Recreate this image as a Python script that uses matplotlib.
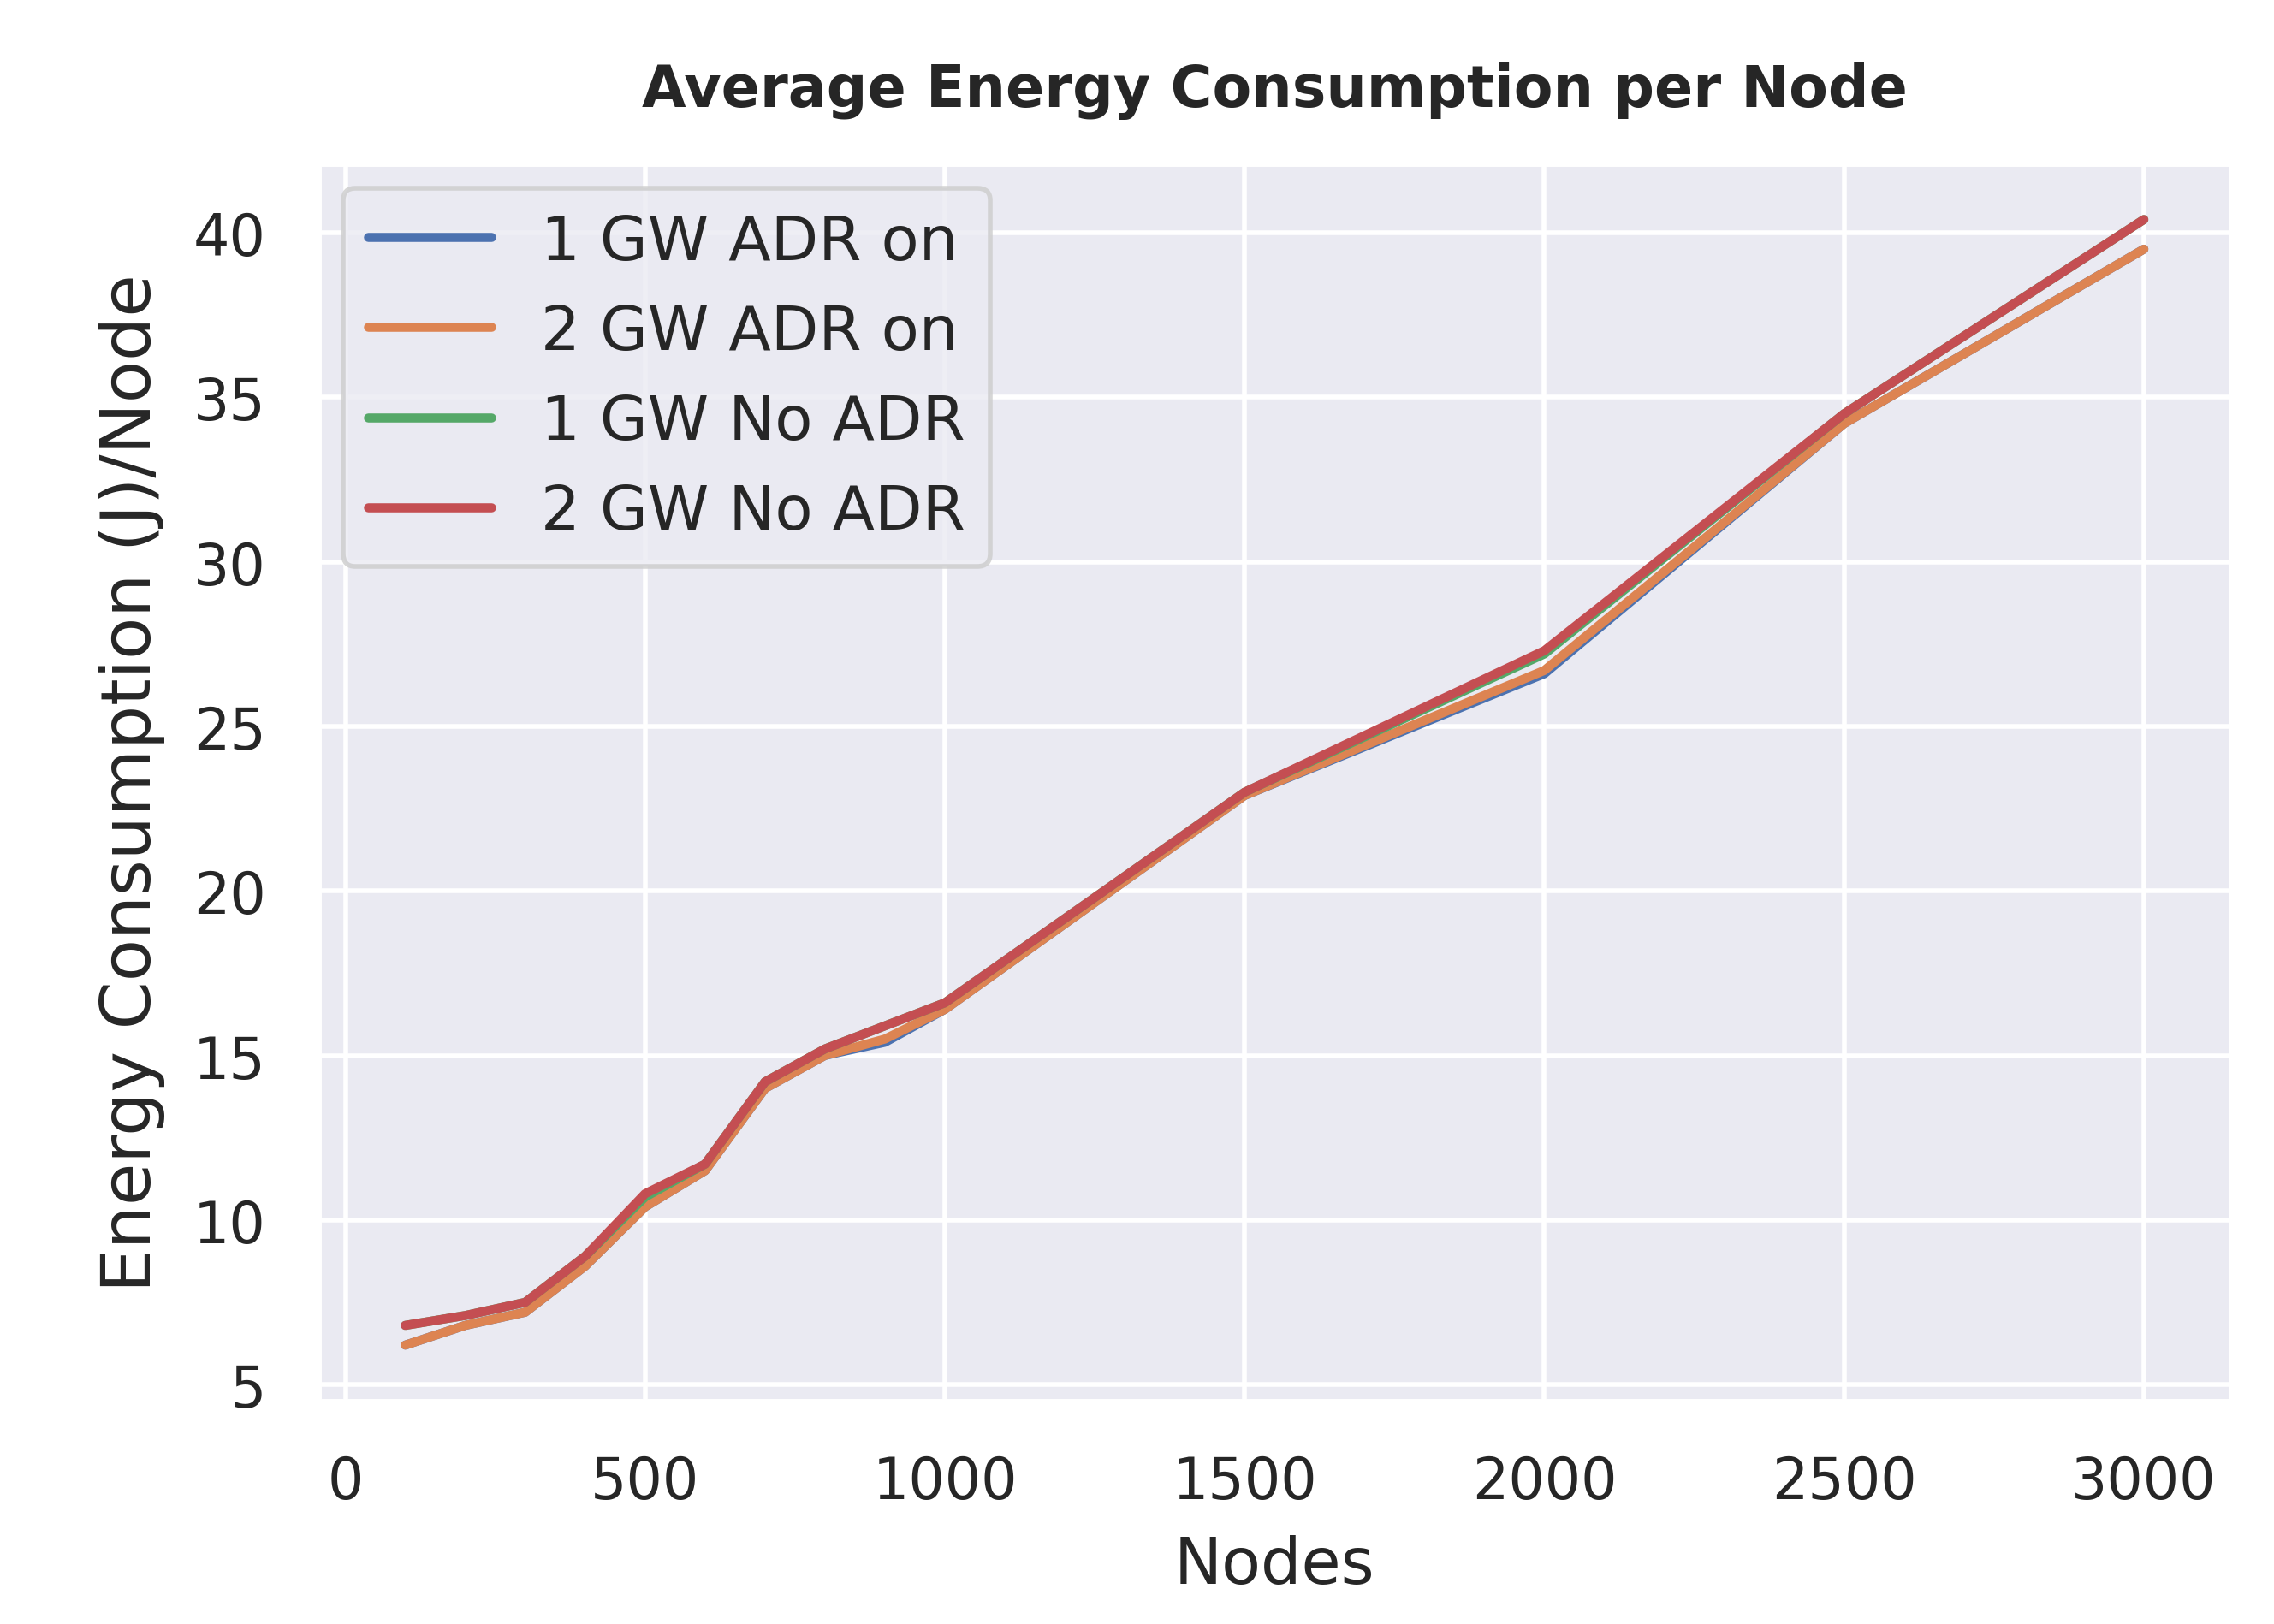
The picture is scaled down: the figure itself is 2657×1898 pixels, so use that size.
import numpy as np
import matplotlib
matplotlib.use('Agg')
import matplotlib.pyplot as plt
import seaborn as sns

nodes = [100, 200, 300, 400, 500, 600, 700, 800, 900, 1000, 1500, 2000, 2500, 3000]
gw1_adr = [6.2, 6.8, 7.2, 8.6, 10.4, 11.5, 14.0, 15.0, 15.4, 16.4, 22.9, 26.6, 34.2, 39.5]
gw2_adr = [6.2, 6.8, 7.2, 8.6, 10.4, 11.5, 14.0, 15.0, 15.5, 16.4, 22.9, 26.7, 34.2, 39.5]
gw1_noadr = [6.8, 7.1, 7.5, 8.9, 10.7, 11.7, 14.2, 15.2, 15.9, 16.6, 23.0, 27.2, 34.5, 40.4]
gw2_noadr = [6.8, 7.1, 7.5, 8.9, 10.8, 11.7, 14.2, 15.2, 15.9, 16.6, 23.0, 27.3, 34.5, 40.4]
labels = ['1 GW ADR on', '2 GW ADR on', '1 GW No ADR', '2 GW No ADR']

sns.set_theme(style='darkgrid')
fig = plt.figure(figsize=(2657 / 400, 1899 / 400), dpi=400)
ax = fig.add_axes([0.14, 0.137, 0.841, 0.762])

for y, lab in zip([gw1_adr, gw2_adr, gw1_noadr, gw2_noadr], labels):
    ax.plot(nodes, y, label=lab, linewidth=1.9)

ax.set_title('Average Energy Consumption per Node', fontsize=12, fontweight='bold', pad=12)
ax.set_xlabel('Nodes', fontsize=13.5, labelpad=5)
ax.set_ylabel('Energy Consumption (J)/Node', fontsize=14.5, labelpad=6)
ax.tick_params(labelsize=12, pad=5)
ax.set_yticks([5, 10, 15, 20, 25, 30, 35, 40])
ax.legend(loc='upper left', fontsize=13, borderaxespad=0.4)

fig.savefig('out.png', dpi=400)
